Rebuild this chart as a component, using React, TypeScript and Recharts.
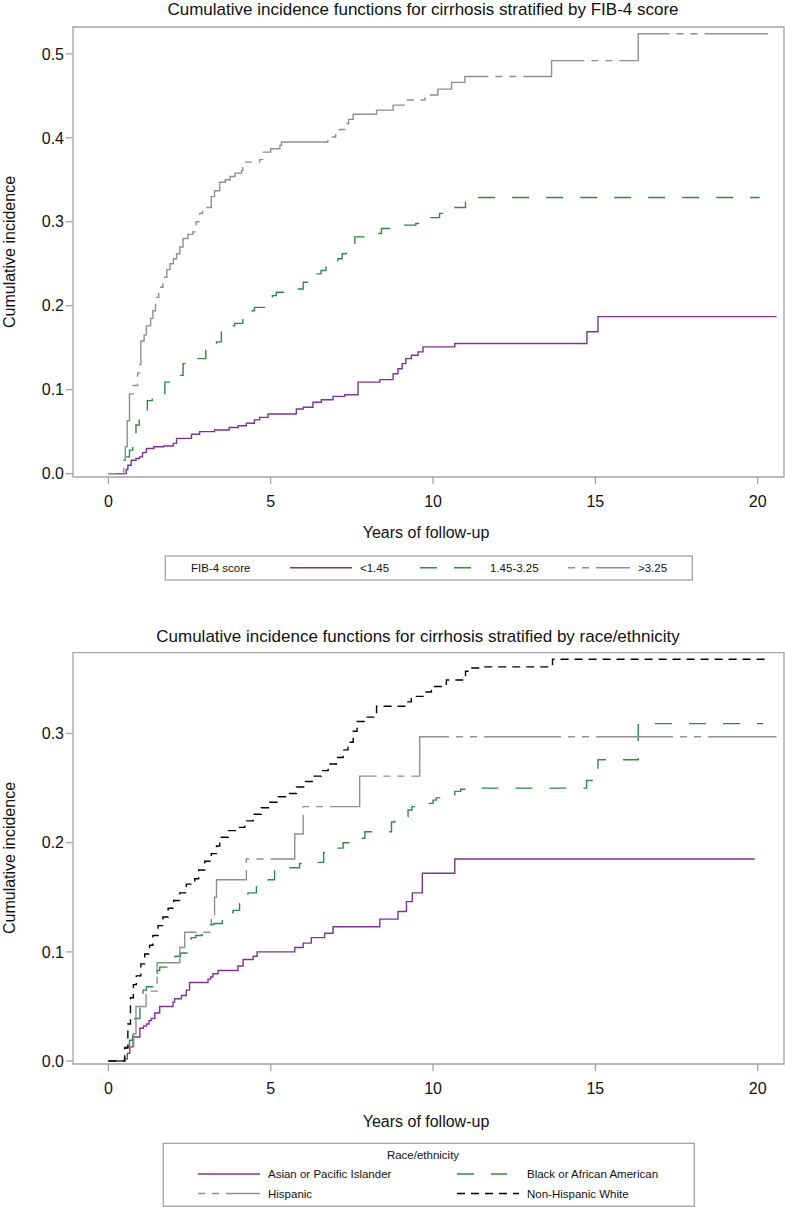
import React from 'react';
import { LineChart, Line, XAxis, YAxis, ReferenceArea } from 'recharts';

// [years, cumulative incidence] step points
const fibLow: [number, number][] = [
  [0, 0], [0.5, 0], [0.55, 0.005], [0.6, 0.01], [0.7, 0.016], [0.85, 0.018], [0.96, 0.02], [1.05, 0.025],
  [1.17, 0.03], [1.4, 0.032], [1.7, 0.033], [2.0, 0.036], [2.1, 0.042], [2.56, 0.047], [2.81, 0.05],
  [3.27, 0.052], [3.72, 0.055], [4.0, 0.057], [4.25, 0.06], [4.5, 0.064], [4.66, 0.067], [4.92, 0.071],
  [5.79, 0.077], [6.0, 0.079], [6.3, 0.085], [6.56, 0.088], [6.92, 0.092], [7.28, 0.094], [7.69, 0.109],
  [8.36, 0.112], [8.77, 0.119], [8.92, 0.125], [9.05, 0.131], [9.16, 0.137], [9.33, 0.141], [9.54, 0.145],
  [9.69, 0.151], [10.67, 0.155], [14.74, 0.169], [15.08, 0.187], [20.58, 0.187],
];

const fibMid: [number, number][] = [
  [0, 0], [0.55, 0.02], [0.65, 0.028], [0.75, 0.036], [0.85, 0.058], [0.95, 0.064], [1.0, 0.069],
  [1.2, 0.087], [1.35, 0.091], [1.5, 0.095], [1.74, 0.109], [1.9, 0.113], [2.07, 0.117], [2.3, 0.131],
  [2.5, 0.134], [2.7, 0.137], [3.0, 0.147], [3.15, 0.152], [3.33, 0.157], [3.48, 0.173], [3.7, 0.176],
  [3.89, 0.179], [4.14, 0.191], [4.35, 0.194], [4.5, 0.198], [4.9, 0.206], [5.05, 0.212], [5.17, 0.216],
  [5.74, 0.22], [6.0, 0.228], [6.4, 0.238], [6.55, 0.242], [6.7, 0.246], [7.07, 0.256], [7.2, 0.262],
  [7.33, 0.266], [7.59, 0.282], [7.95, 0.286], [8.41, 0.292], [8.87, 0.296], [9.47, 0.298], [9.6, 0.302],
  [9.71, 0.305], [10.2, 0.31], [10.4, 0.314], [10.6, 0.317], [11.0, 0.325], [11.4, 0.329], [20.06, 0.329],
];

const fibHigh: [number, number][] = [
  [0, 0], [0.47, 0.016], [0.52, 0.032], [0.58, 0.063], [0.65, 0.095], [0.76, 0.105], [0.9, 0.12],
  [0.97, 0.13], [1.0, 0.158], [1.1, 0.165], [1.17, 0.176], [1.3, 0.185], [1.37, 0.194], [1.45, 0.21],
  [1.55, 0.222], [1.68, 0.234], [1.8, 0.243], [1.9, 0.25], [2.0, 0.256], [2.1, 0.262], [2.2, 0.27],
  [2.3, 0.28], [2.45, 0.285], [2.6, 0.288], [2.7, 0.3], [2.81, 0.31], [2.9, 0.317], [3.17, 0.33],
  [3.27, 0.337], [3.43, 0.347], [3.6, 0.35], [3.75, 0.354], [3.9, 0.358], [4.1, 0.361], [4.14, 0.371],
  [4.66, 0.374], [4.75, 0.383], [5.0, 0.387], [5.28, 0.391], [5.33, 0.395], [6.76, 0.401], [7.0, 0.405],
  [7.12, 0.41], [7.28, 0.417], [7.4, 0.422], [7.54, 0.428], [8.26, 0.433], [8.77, 0.439], [9.18, 0.445],
  [9.75, 0.451], [10.15, 0.458], [10.57, 0.466], [10.98, 0.473], [13.65, 0.492], [16.32, 0.524], [20.32, 0.524],
];

const raceAsian: [number, number][] = [
  [0, 0], [0.5, 0.002], [0.58, 0.007], [0.66, 0.013], [0.76, 0.022], [0.97, 0.03], [1.08, 0.032],
  [1.17, 0.034], [1.25, 0.037], [1.32, 0.039], [1.43, 0.044], [1.58, 0.05], [1.99, 0.054], [2.04, 0.057],
  [2.25, 0.06], [2.4, 0.065], [2.5, 0.072], [3.07, 0.075], [3.15, 0.077], [3.22, 0.08], [3.38, 0.083],
  [3.99, 0.087], [4.15, 0.093], [4.46, 0.096], [4.58, 0.1], [5.74, 0.104], [6.0, 0.108], [6.25, 0.113],
  [6.66, 0.117], [6.92, 0.123], [8.36, 0.13], [8.92, 0.137], [9.18, 0.146], [9.36, 0.154], [9.67, 0.172],
  [10.67, 0.185], [19.91, 0.185],
];

const raceBlack: [number, number][] = [
  [0, 0], [0.55, 0.013], [0.65, 0.019], [0.75, 0.025], [0.82, 0.039], [0.97, 0.061], [1.07, 0.065],
  [1.17, 0.068], [1.42, 0.079], [1.5, 0.083], [1.58, 0.086], [1.92, 0.092], [2.05, 0.096], [2.22, 0.099],
  [2.43, 0.111], [2.55, 0.113], [2.69, 0.115], [2.89, 0.123], [3.05, 0.125], [3.25, 0.126], [3.51, 0.134],
  [3.65, 0.136], [3.84, 0.138], [4.04, 0.149], [4.15, 0.151], [4.3, 0.154], [4.56, 0.163], [4.75, 0.165],
  [4.92, 0.166], [5.12, 0.175], [5.3, 0.176], [5.53, 0.177], [5.89, 0.181], [6.3, 0.182], [6.63, 0.191],
  [6.8, 0.193], [6.92, 0.195], [7.23, 0.2], [7.4, 0.202], [7.59, 0.204], [7.9, 0.21], [8.72, 0.219],
  [8.82, 0.222], [8.92, 0.224], [9.23, 0.23], [9.35, 0.233], [9.49, 0.236], [10.0, 0.239], [10.1, 0.241],
  [10.26, 0.243], [10.67, 0.247], [10.85, 0.249], [11.03, 0.25], [14.73, 0.257], [15.08, 0.276],
  [16.32, 0.309], [20.17, 0.309],
];

const raceHispanic: [number, number][] = [
  [0, 0], [0.5, 0.013], [0.78, 0.025], [0.85, 0.05], [1.16, 0.064], [1.5, 0.09], [2.2, 0.104],
  [2.35, 0.118], [3.17, 0.134], [3.27, 0.15], [3.33, 0.166], [4.25, 0.185], [5.74, 0.208], [6.0, 0.233],
  [7.74, 0.261], [9.59, 0.297], [20.58, 0.297],
];

const raceWhite: [number, number][] = [
  [0, 0], [0.5, 0.012], [0.6, 0.034], [0.68, 0.058], [0.77, 0.07], [0.86, 0.078], [1.0, 0.089],
  [1.12, 0.098], [1.27, 0.106], [1.37, 0.115], [1.53, 0.124], [1.68, 0.132], [1.84, 0.14], [2.01, 0.147],
  [2.2, 0.154], [2.4, 0.162], [2.66, 0.167], [2.78, 0.175], [2.97, 0.183], [3.17, 0.19], [3.33, 0.197],
  [3.43, 0.205], [3.69, 0.211], [4.0, 0.214], [4.2, 0.22], [4.46, 0.226], [4.71, 0.232], [4.97, 0.237],
  [5.23, 0.242], [5.53, 0.245], [5.79, 0.251], [6.05, 0.256], [6.3, 0.261], [6.56, 0.266], [6.77, 0.272],
  [7.02, 0.278], [7.23, 0.285], [7.38, 0.292], [7.54, 0.302], [7.66, 0.311], [7.9, 0.315], [8.26, 0.325],
  [9.13, 0.329], [9.33, 0.334], [9.69, 0.338], [9.95, 0.343], [10.41, 0.349], [11.0, 0.357], [11.2, 0.36],
  [11.5, 0.361], [13.68, 0.368], [20.32, 0.368],
];

const xTicks = [0, 5, 10, 15, 20];
const fibYTicks = [0, 0.1, 0.2, 0.3, 0.4, 0.5];
const raceYTicks = [0, 0.1, 0.2, 0.3];

const X_DOMAIN: [number, number] = [-1.09, 20.81];
const FIB_Y: [number, number] = [-0.004, 0.532];
const RACE_Y: [number, number] = [-0.0027, 0.374];

const PURPLE = '#7f3393';
const GREEN = '#2e8b46';
const GRAY = '#8f8f8f';
const BLACK = '#000000';
const FRAME = '#a3a3a3';
const FONT = "'Liberation Sans', Arial, Helvetica, sans-serif";

const DASH_GREEN = '17 17';
const DASH_GRAY = '7 7 7 7 77 7';
const DASH_BLACK = '8 6';

type Series = { name: string; pts: [number, number][]; color: string; dash?: string };

const toRows = (pts: [number, number][]) => pts.map(([t, v]) => ({ t, v }));

const CifPlot = ({ series, yDomain, yTicks, height, top, marginTop, axisHeight }: {
  series: Series[]; yDomain: [number, number]; yTicks: number[]; height: number; top: number;
  marginTop: number; axisHeight: number;
}) => (
  <div style={{ position: 'absolute', left: 0, top, width: 785, height }}>
    <LineChart width={785} height={height} margin={{ top: marginTop, right: 1, bottom: 0, left: 0 }}>
      <XAxis
        type="number"
        dataKey="t"
        domain={X_DOMAIN}
        ticks={xTicks}
        allowDataOverflow
        height={axisHeight}
        axisLine={false}
        tickLine={{ stroke: FRAME, strokeWidth: 1.3 }}
        tickSize={7}
        tickMargin={12}
        tick={{ fontSize: 16, fill: '#111' }}
      />
      <YAxis
        type="number"
        domain={yDomain}
        ticks={yTicks}
        allowDataOverflow
        width={73}
        axisLine={false}
        tickLine={{ stroke: FRAME, strokeWidth: 1.3 }}
        tickSize={7}
        tickMargin={2}
        tickFormatter={(v: number) => v.toFixed(1)}
        tick={{ fontSize: 16, fill: '#111' }}
      />
      <ReferenceArea
        x1={X_DOMAIN[0]}
        x2={X_DOMAIN[1]}
        y1={yDomain[0]}
        y2={yDomain[1]}
        fill="none"
        fillOpacity={0}
        stroke={FRAME}
        strokeWidth={1.3}
        ifOverflow="visible"
      />
      {series.map((s) => (
        <Line
          key={s.name}
          data={toRows(s.pts)}
          dataKey="v"
          name={s.name}
          type="stepAfter"
          stroke={s.color}
          strokeWidth={1.4}
          strokeDasharray={s.dash}
          dot={false}
          activeDot={false}
          isAnimationActive={false}
        />
      ))}
    </LineChart>
  </div>
);

const fibSeries: Series[] = [
  { name: '<1.45', pts: fibLow, color: PURPLE },
  { name: '1.45-3.25', pts: fibMid, color: GREEN, dash: DASH_GREEN },
  { name: '>3.25', pts: fibHigh, color: GRAY, dash: DASH_GRAY },
];

const raceSeries: Series[] = [
  { name: 'Asian or Pacific Islander', pts: raceAsian, color: PURPLE },
  { name: 'Black or African American', pts: raceBlack, color: GREEN, dash: DASH_GREEN },
  { name: 'Hispanic', pts: raceHispanic, color: GRAY, dash: DASH_GRAY },
  { name: 'Non-Hispanic White', pts: raceWhite, color: BLACK, dash: DASH_BLACK },
];

const Swatch = ({ x, y, w, s }: { x: number; y: number; w: number; s: Series }) => (
  <line x1={x} x2={x + w} y1={y} y2={y} stroke={s.color} strokeWidth={1.4} strokeDasharray={s.dash} />
);

export default function App() {
  return (
    <div style={{ position: 'absolute', left: 0, top: 0, width: 785, height: 1207, background: '#fff', fontFamily: FONT }}>
      <CifPlot series={fibSeries} yDomain={FIB_Y} yTicks={fibYTicks} height={510} top={0} marginTop={27} axisHeight={33} />
      <CifPlot series={raceSeries} yDomain={RACE_Y} yTicks={raceYTicks} height={500} top={600} marginTop={52.7} axisHeight={36} />
      <svg width={785} height={1207} style={{ position: 'absolute', left: 0, top: 0, pointerEvents: 'none' }} fontFamily={FONT}>
        {/* top panel texts */}
        <text x={423} y={15} textAnchor="middle" fontSize={17} fill="#111">
          Cumulative incidence functions for cirrhosis stratified by FIB-4 score
        </text>
        <text x={15} y={252} transform="rotate(-90 15 252)" textAnchor="middle" fontSize={16} fill="#111">
          Cumulative incidence
        </text>
        <text x={426} y={538} textAnchor="middle" fontSize={16} fill="#111">Years of follow-up</text>
        <rect x={165.3} y={556} width={527} height={24} fill="none" stroke={FRAME} strokeWidth={1.3} />
        <text x={191} y={571.5} fontSize={11.5} fill="#111">FIB-4 score</text>
        <Swatch x={290} y={567.7} w={62} s={fibSeries[0]} />
        <text x={360} y={571.5} fontSize={11.5} fill="#111">{fibSeries[0].name}</text>
        <Swatch x={420} y={567.7} w={55} s={fibSeries[1]} />
        <text x={490} y={571.5} fontSize={11.5} fill="#111">{fibSeries[1].name}</text>
        <Swatch x={568} y={567.7} w={62} s={fibSeries[2]} />
        <text x={638} y={571.5} fontSize={11.5} fill="#111">{fibSeries[2].name}</text>

        {/* bottom panel texts */}
        <text x={418} y={641.5} textAnchor="middle" fontSize={17} fill="#111">
          Cumulative incidence functions for cirrhosis stratified by race/ethnicity
        </text>
        <text x={15} y={858} transform="rotate(-90 15 858)" textAnchor="middle" fontSize={16} fill="#111">
          Cumulative incidence
        </text>
        <text x={426} y={1126.5} textAnchor="middle" fontSize={16} fill="#111">Years of follow-up</text>
        <rect x={163.3} y={1143.3} width={531} height={63} fill="none" stroke={FRAME} strokeWidth={1.3} />
        <text x={423} y={1159} textAnchor="middle" fontSize={11.5} fill="#111">Race/ethnicity</text>
        <Swatch x={198} y={1174} w={62} s={raceSeries[0]} />
        <text x={268} y={1178} fontSize={11.5} fill="#111">{raceSeries[0].name}</text>
        <Swatch x={457} y={1174} w={50} s={raceSeries[1]} />
        <text x={527} y={1178} fontSize={11.5} fill="#111">{raceSeries[1].name}</text>
        <Swatch x={198} y={1193.5} w={62} s={raceSeries[2]} />
        <text x={268} y={1197.5} fontSize={11.5} fill="#111">{raceSeries[2].name}</text>
        <Swatch x={457} y={1193.5} w={62} s={raceSeries[3]} />
        <text x={527} y={1197.5} fontSize={11.5} fill="#111">{raceSeries[3].name}</text>
      </svg>
    </div>
  );
}
